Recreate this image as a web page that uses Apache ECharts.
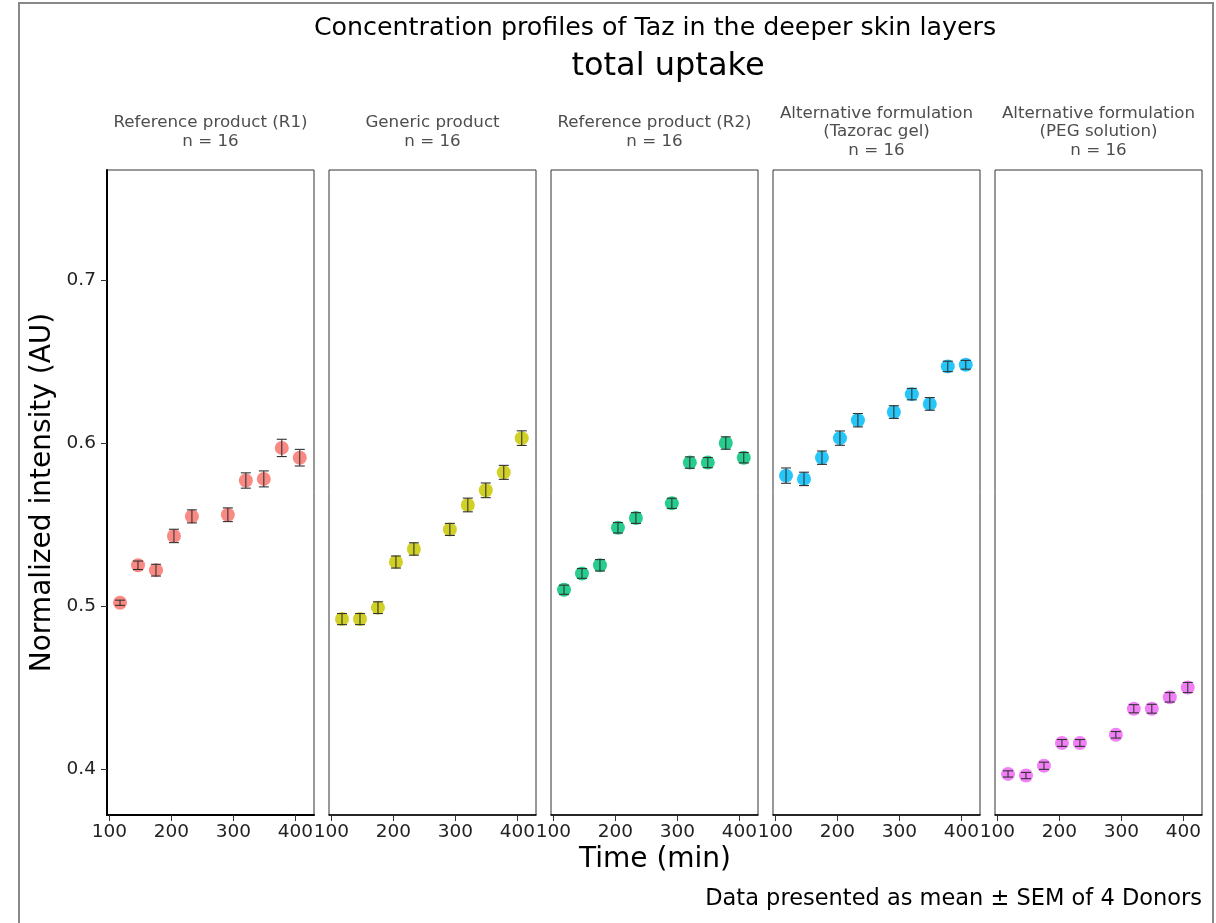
<!DOCTYPE html>
<html>
<head>
<meta charset="utf-8">
<script src="https://cdn.jsdelivr.net/npm/echarts@6/dist/echarts.min.js"></script>
<style>
html,body{margin:0;padding:0;background:#fff;}
#chart{width:1216px;height:923px;}
</style>
</head>
<body>
<div id="chart"></div>
<script>
// ---- Data ----
const panelNames = [
  "Reference product (R1)\nn = 16",
  "Generic product\nn = 16",
  "Reference product (R2)\nn = 16",
  "Alternative formulation\n(Tazorac gel)\nn = 16",
  "Alternative formulation\n(PEG solution)\nn = 16"
];
const times = [117, 146, 175, 204, 233, 291, 320, 349, 378, 407];
const meanR1  = [0.502, 0.525, 0.522, 0.543, 0.555, 0.556, 0.577, 0.578, 0.597, 0.591];
const semR1   = [0.0016, 0.0026, 0.0036, 0.0041, 0.0040, 0.0042, 0.0047, 0.0049, 0.0053, 0.0051];
const meanGen = [0.492, 0.492, 0.499, 0.527, 0.535, 0.547, 0.562, 0.571, 0.582, 0.603];
const semGen  = [0.0034, 0.0034, 0.0036, 0.0037, 0.0038, 0.0037, 0.0042, 0.0045, 0.0043, 0.0045];
const meanR2  = [0.510, 0.520, 0.525, 0.548, 0.554, 0.563, 0.588, 0.588, 0.600, 0.591];
const semR2   = [0.0028, 0.0030, 0.0035, 0.0032, 0.0033, 0.0031, 0.0035, 0.0031, 0.0038, 0.0032];
const meanTaz = [0.580, 0.578, 0.591, 0.603, 0.614, 0.619, 0.630, 0.624, 0.647, 0.648];
const semTaz  = [0.0047, 0.0041, 0.0041, 0.0044, 0.0041, 0.0039, 0.0035, 0.0039, 0.0032, 0.0027];
const meanPEG = [0.397, 0.396, 0.402, 0.416, 0.416, 0.421, 0.437, 0.437, 0.444, 0.450];
const semPEG  = [0.0019, 0.0019, 0.0022, 0.0021, 0.0021, 0.0020, 0.0025, 0.0027, 0.0029, 0.0031];
const xTicks = [100, 200, 300, 400];
const yTicks = [0.4, 0.5, 0.6, 0.7];
const colors = ["#F8766D", "#C8C800", "#00C47A", "#00BCF8", "#EE6AF5"];

const means = [meanR1, meanGen, meanR2, meanTaz, meanPEG];
const sems = [semR1, semGen, semR2, semTaz, semPEG];

// ---- Layout ----
const FONT = "DejaVu Sans";
const panelLeft = [107, 329, 551, 773, 995];
const panelW = 207, panelTop = 170, panelH = 645;
const yMin = 0.3718, yMax = 0.7675, xMin = 96, xMax = 430;

const grids = [], xAxes = [], yAxes = [], series = [], graphics = [];
for (let i = 0; i < 5; i++) {
  grids.push({left: panelLeft[i], top: panelTop, width: panelW, height: panelH,
    show: true, borderColor: '#333', borderWidth: 1, backgroundColor: '#fff'});
  xAxes.push({type: 'value', gridIndex: i, min: xMin, max: xMax,
    axisLine: {show: true, onZero: false, lineStyle: {color: '#000', width: i === 0 ? 2 : 1.5}},
    axisTick: {show: true, customValues: xTicks, length: 6, lineStyle: {color: '#333'}},
    axisLabel: {show: true, customValues: xTicks, color: '#222', fontSize: 18.5, fontFamily: FONT, margin: 8},
    splitLine: {show: false}});
  yAxes.push({type: 'value', gridIndex: i, min: yMin, max: yMax,
    axisLine: {show: i === 0, onZero: false, lineStyle: {color: '#000', width: 2}},
    axisTick: {show: i === 0, customValues: yTicks, length: 6, lineStyle: {color: '#333'}},
    axisLabel: {show: i === 0, customValues: yTicks, color: '#222', fontSize: 18.5, fontFamily: FONT, margin: 11,
      formatter: v => v.toFixed(1)},
    splitLine: {show: false},
    name: i === 0 ? 'Normalized intensity (AU)' : '',
    nameLocation: 'middle', nameGap: 50,
    nameTextStyle: {fontSize: 28, fontFamily: FONT, color: '#000'}});
  const pts = times.map((t, k) => [t, means[i][k]]);
  const bars = times.map((t, k) => [t, means[i][k] - sems[i][k], means[i][k] + sems[i][k]]);
  series.push({type: 'scatter', xAxisIndex: i, yAxisIndex: i, data: pts, symbolSize: 14,
    itemStyle: {color: colors[i], opacity: 0.85}, z: 2, silent: true});
  series.push({type: 'custom', xAxisIndex: i, yAxisIndex: i, data: bars, z: 3, silent: true,
    renderItem: function (params, api) {
      const x = api.value(0);
      const lo = api.coord([x, api.value(1)]);
      const hi = api.coord([x, api.value(2)]);
      const w = 5;
      const st = {stroke: '#333', lineWidth: 1.1};
      return {type: 'group', children: [
        {type: 'line', shape: {x1: lo[0], y1: lo[1], x2: hi[0], y2: hi[1]}, style: st},
        {type: 'line', shape: {x1: lo[0] - w, y1: lo[1], x2: lo[0] + w, y2: lo[1]}, style: st},
        {type: 'line', shape: {x1: hi[0] - w, y1: hi[1], x2: hi[0] + w, y2: hi[1]}, style: st}
      ]};
    }});
  graphics.push({type: 'text', x: panelLeft[i] + panelW / 2, y: 132, silent: true,
    style: {text: panelNames[i], fill: '#4d4d4d', font: '16.7px "DejaVu Sans"', align: 'center',
      verticalAlign: 'middle', lineHeight: 18.5}});
}

graphics.push({type: 'rect', shape: {x: 19, y: 3, width: 1194, height: 925}, silent: true,
  style: {fill: 'none', stroke: '#888', lineWidth: 2}, z: -10});
graphics.push({type: 'text', x: 655, y: 28, silent: true,
  style: {text: 'Concentration profiles of Taz in the deeper skin layers', fill: '#000',
    font: '25.3px "DejaVu Sans"', align: 'center', verticalAlign: 'middle'}});
graphics.push({type: 'text', x: 668, y: 67, silent: true,
  style: {text: 'total uptake', fill: '#000', font: '32px "DejaVu Sans"', align: 'center', verticalAlign: 'middle'}});
graphics.push({type: 'text', x: 655, y: 860, silent: true,
  style: {text: 'Time (min)', fill: '#000', font: '28px "DejaVu Sans"', align: 'center', verticalAlign: 'middle'}});
graphics.push({type: 'text', x: 1202, y: 899, silent: true,
  style: {text: 'Data presented as mean ± SEM of 4 Donors', fill: '#000', font: '22.5px "DejaVu Sans"',
    align: 'right', verticalAlign: 'middle'}});

const chart = echarts.init(document.getElementById('chart'), null, {renderer: 'canvas'});
chart.setOption({
  animation: false,
  backgroundColor: '#fff',
  textStyle: {fontFamily: FONT},
  grid: grids, xAxis: xAxes, yAxis: yAxes, series: series, graphic: graphics
});
</script>
</body>
</html>
